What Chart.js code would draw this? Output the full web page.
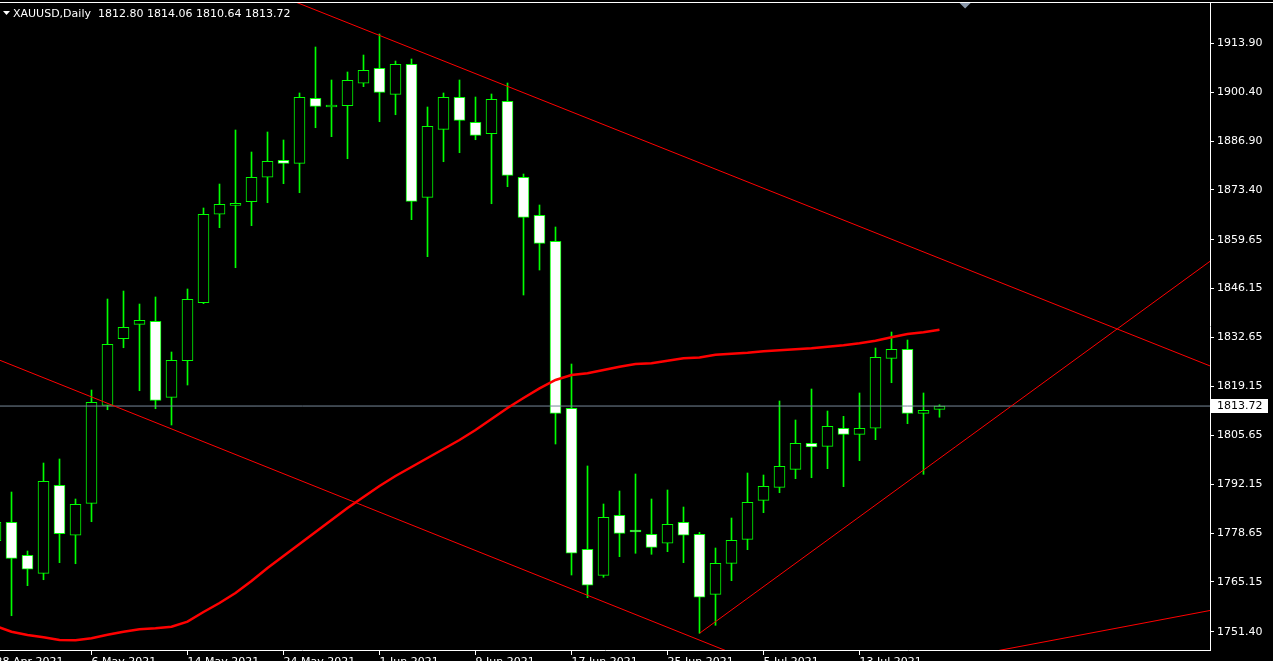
<!DOCTYPE html>
<html><head><meta charset="utf-8">
<script src="https://cdn.jsdelivr.net/npm/chart.js@4.4.1/dist/chart.umd.min.js"></script>
<style>html,body{margin:0;padding:0;background:#000;overflow:hidden}
#wrap{position:relative;width:1273px;height:661px}</style>
</head><body><div id="wrap"><canvas id="c"></canvas></div>
<script>
const symbolTitle = 'XAUUSD,Daily';
// Daily bars, 28 Apr 2021 .. 20 Jul 2021
const opens = [1776.53,1781.62,1772.50,1767.53,1791.83,1778.03,1786.86,1813.93,1832.32,1836.30,
1837.13,1816.14,1826.25,1842.26,1866.68,1869.16,1870.16,1876.90,1881.59,1880.76,
1898.71,1896.31,1896.67,1902.86,1907.00,1899.82,1908.10,1871.37,1890.15,1898.99,
1892.08,1888.94,1897.88,1876.90,1866.40,1859.22,1813.10,1774.16,1766.98,1783.55,
1779.13,1778.30,1775.82,1781.62,1778.30,1761.73,1770.29,1776.92,1787.69,1791.28,
1796.25,1803.43,1802.60,1807.58,1805.92,1807.58,1826.91,1829.39,1811.72,1812.80];
const highs = [1783.63,1789.98,1773.69,1797.99,1799.10,1788.05,1818.15,1843.28,1845.49,1841.90,
1843.84,1828.65,1846.05,1868.42,1875.04,1889.96,1883.88,1889.41,1887.20,1900.18,
1912.88,1903.77,1905.98,1910.67,1916.47,1909.01,1909.57,1896.31,1900.18,1903.77,
1899.07,1899.90,1902.94,1877.81,1869.25,1863.17,1825.33,1797.17,1786.67,1790.26,
1794.96,1788.05,1790.54,1785.84,1778.86,1774.52,1782.80,1795.23,1794.68,1815.12,
1809.87,1818.43,1812.35,1810.89,1817.33,1829.75,1834.17,1831.96,1817.33,1814.06];
const lows = [1775.35,1755.82,1764.11,1765.76,1770.46,1770.18,1781.78,1812.71,1829.83,1817.96,
1812.99,1808.49,1819.53,1841.99,1862.98,1851.93,1863.53,1869.88,1875.13,1872.64,
1890.59,1888.11,1882.03,1901.92,1892.25,1894.18,1865.19,1854.97,1881.20,1883.69,
1887.28,1869.60,1874.30,1844.39,1851.29,1803.24,1767.06,1760.80,1766.43,1772.12,
1773.06,1772.78,1773.50,1770.46,1750.96,1753.17,1765.49,1774.05,1784.27,1789.79,
1793.66,1793.93,1796.42,1791.45,1798.63,1804.43,1820.17,1808.85,1794.87,1810.64];
const closes = [1781.62,1771.67,1768.64,1792.94,1778.47,1786.59,1814.76,1830.78,1835.47,1837.40,
1815.31,1826.36,1843.20,1866.68,1869.44,1869.25,1876.90,1881.31,1880.76,1898.99,
1896.50,1896.50,1903.68,1906.45,1900.37,1908.10,1870.27,1890.98,1898.99,1892.64,
1888.49,1898.44,1877.45,1865.85,1858.67,1811.72,1773.06,1764.22,1783.00,1778.58,
1778.94,1774.71,1781.06,1778.03,1760.91,1770.29,1776.65,1787.14,1791.56,1797.08,
1803.43,1802.41,1808.13,1805.92,1807.58,1827.19,1829.39,1811.72,1812.55,1813.72];
const maValues = [1752.98,1751.40,1750.49,1749.86,1749.11,1749.03,1749.58,1750.58,1751.40,1752.07,
1752.34,1752.78,1754.17,1756.84,1759.33,1762.09,1765.41,1769.00,1772.31,1775.62,
1778.94,1782.25,1785.57,1788.60,1791.64,1794.40,1796.89,1799.37,1801.86,1804.35,
1807.11,1810.15,1813.18,1815.94,1818.62,1820.92,1822.30,1822.77,1823.68,1824.59,
1825.33,1825.53,1826.25,1826.91,1827.13,1827.90,1828.18,1828.46,1828.84,1829.12,
1829.39,1829.67,1830.11,1830.50,1831.05,1831.77,1832.71,1833.62,1834.09,1834.81];
const xTickIdx = [0,6,12,18,24,30,36,42,48,54];
const xTickLabels = ['28 Apr 2021','6 May 2021','14 May 2021','24 May 2021','1 Jun 2021','9 Jun 2021','17 Jun 2021','25 Jun 2021','5 Jul 2021','13 Jul 2021'];
const yTicks = [1913.90,1900.40,1886.90,1873.40,1859.65,1846.15,1832.65,1819.15,1805.65,1792.15,1778.65,1765.15,1751.40];
// trend lines (bar index, price)
const trendStartIdx = [18, 0, 44, 62];
const trendStartPrice = [1926.63, 1826.85, 1750.96, 1745.63];
const trendEndIdx = [76, 47, 76, 76];
const trendEndPrice = [1824.64, 1743.78, 1854.00, 1757.34];

const X_MIN = 0.28125, X_MAX = 75.90625;
const Y_MIN = 1746.35, Y_MAX = 1925.31;
const FONT = 'DejaVu Sans';
Chart.defaults.font.family = FONT;

const n = opens.length;
const lastClose = closes[n-1];
const wickData = opens.map((o,i)=>({x:i, y:[lows[i], highs[i]]}));
const bodyData = opens.map((o,i)=>({x:i, y:[o, closes[i]]}));
const maData = maValues.map((v,i)=>({x:i, y:v}));
const trendSets = trendStartIdx.map((s,k)=>({type:'line', data:[{x:s,y:trendStartPrice[k]},{x:trendEndIdx[k],y:trendEndPrice[k]}],
  borderColor:'#ff0000', borderWidth:1, pointRadius:0, order:1}));

const bgPlugin = {id:'bg', beforeDraw(c){const x=c.ctx; x.save(); x.fillStyle='#000'; x.fillRect(0,0,c.width,c.height); x.restore();}};
const overlay = {id:'overlay', afterDraw(c){
  const x=c.ctx, ys=c.scales.y, xs=c.scales.x;
  x.save();
  // top frame line
  x.fillStyle='#ffffff'; x.fillRect(0,2,c.width,1);
  // header
  x.font='11px "'+FONT+'"'; x.textBaseline='alphabetic'; x.textAlign='left';
  x.beginPath(); x.moveTo(3,11); x.lineTo(10,11); x.lineTo(6.5,15); x.closePath(); x.fill();
  x.fillText(symbolTitle+'  '+[opens[n-1],highs[n-1],lows[n-1],closes[n-1]].map(v=>v.toFixed(2)).join(' '), 13, 17);
  // shift marker
  const sx = xs.getPixelForValue(60.6);
  x.fillStyle='#8a98aa'; x.beginPath(); x.moveTo(sx-5.5,3); x.lineTo(sx+5.5,3); x.lineTo(sx,8.5); x.closePath(); x.fill();
  // price label
  const py = Math.round(ys.getPixelForValue(lastClose));
  x.fillStyle='#ffffff'; x.fillRect(c.chartArea.right+1, py-7, 57, 14);
  x.fillStyle='#000000'; x.textBaseline='middle'; x.fillText(lastClose.toFixed(2), c.chartArea.right+7, py+0.5);
  x.restore();
}};

new Chart(document.getElementById('c'), {
  type:'bar',
  data:{datasets:[
    {type:'bar', data:wickData, backgroundColor:'#00ff00', barThickness:1, grouped:false, order:6},
    {type:'bar', data:bodyData, backgroundColor:c=>(c.raw && c.raw.y[1] < c.raw.y[0]) ? '#ffffff' : '#000000',
      borderColor:'#00ff00', borderWidth:1, borderSkipped:false, barThickness:11, minBarLength:2, grouped:false, order:5},
    {type:'line', data:[{x:X_MIN,y:lastClose},{x:X_MAX,y:lastClose}], borderColor:'#778899', borderWidth:1, pointRadius:0, order:4},
    {type:'line', data:maData, borderColor:'#ff0000', borderWidth:2.5, pointRadius:0, order:3},
    ...trendSets
  ]},
  options:{
    responsive:true, maintainAspectRatio:false, animation:false, devicePixelRatio:1, events:[],
    layout:{padding:{top:2,left:0,right:0,bottom:0}},
    plugins:{legend:{display:false}, tooltip:{enabled:false}},
    scales:{
      x:{type:'linear', min:X_MIN, max:X_MAX, offset:false,
        grid:{display:true, drawOnChartArea:false, tickLength:5, color:'#ffffff', offset:false},
        border:{display:true, color:'#ffffff'},
        ticks:{color:'#ffffff', font:{size:11}, align:'start', maxRotation:0, autoSkip:false, padding:1,
          callback:v=>{const k=xTickIdx.indexOf(v); return k>=0?xTickLabels[k]:'';}},
        afterBuildTicks:s=>{s.ticks = xTickIdx.map(v=>({value:v}));},
        afterFit:s=>{s.height=11; s.paddingLeft=0; s.paddingRight=0;}},
      y:{position:'right', min:Y_MIN, max:Y_MAX,
        grid:{drawOnChartArea:false, tickLength:4, color:'#ffffff'},
        border:{display:true, color:'#ffffff'},
        ticks:{color:'#ffffff', font:{size:11}, padding:3, callback:v=>Number(v).toFixed(2)},
        afterBuildTicks:s=>{s.ticks = yTicks.map(v=>({value:v}));},
        afterFit:s=>{s.width=63; s.paddingTop=0; s.paddingBottom=0;}}
    }
  },
  plugins:[bgPlugin, overlay]
});
</script></body></html>
